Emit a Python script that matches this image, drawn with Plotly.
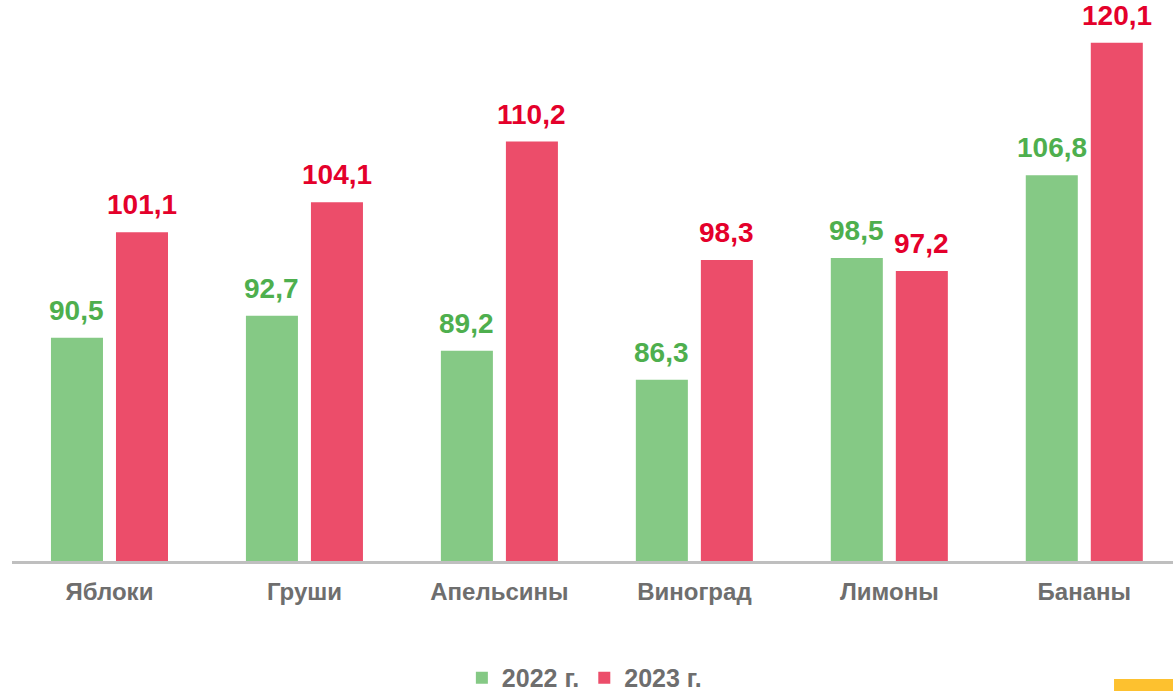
import plotly.graph_objects as go

categories = ["Яблоки", "Груши", "Апельсины", "Виноград", "Лимоны", "Бананы"]
values_2022 = [90.5, 92.7, 89.2, 86.3, 98.5, 106.8]
values_2023 = [101.1, 104.1, 110.2, 98.3, 97.2, 120.1]
series_names = ["2022 г.", "2023 г."]

bar_colors = ["#85C985", "#EC4D6A"]
label_colors = ["#4EAF4E", "#E4002B"]
FONT = "Liberation Sans, Arial, sans-serif"


def fmt(v):
    return f"{v:.1f}".replace(".", ",")


fig = go.Figure()
for name, vals, col in zip(series_names, [values_2022, values_2023], bar_colors):
    fig.add_trace(go.Bar(x=categories, y=vals, name=name, marker=dict(color=col, line=dict(width=0))))

annotations = []
for vals, col, shift in zip([values_2022, values_2023], label_colors, [-32.5, 32.5]):
    for c, v in zip(categories, vals):
        annotations.append(dict(
            x=c, y=v, xref="x", yref="y", text=fmt(v), showarrow=False,
            xshift=shift, yanchor="bottom", yshift=10,
            font=dict(family=FONT, size=28, color=col, weight="bold"),
        ))

fig.update_layout(
    width=1173, height=691,
    margin=dict(l=12, r=0, t=0, b=130, autoexpand=False),
    paper_bgcolor="white", plot_bgcolor="white",
    barmode="group", bargap=0.333, bargroupgap=0.2,
    annotations=annotations,
    showlegend=True,
    legend=dict(
        orientation="h", x=0.493, xanchor="center", y=-0.2085, yanchor="middle",
        font=dict(family=FONT, size=25, color="#6E6E6E", weight="bold"),
        itemclick=False, itemdoubleclick=False,
    ),
    shapes=[dict(type="rect", xref="paper", yref="paper",
                 x0=0.9492, x1=1.01, y0=-0.2103, y1=-0.24,
                 fillcolor="#FDC12F", line=dict(width=0), layer="above")],
)
fig.update_xaxes(
    type="category", range=[-0.5, 5.455], automargin=False,
    showline=True, linecolor="#BFBFBF", linewidth=3,
    showgrid=False, zeroline=False,
    ticks="outside", ticklen=7, tickcolor="rgba(0,0,0,0)",
    tickfont=dict(family=FONT, size=24, color="#6E6E6E", weight="bold"),
)
fig.update_yaxes(range=[68.1, 124.4], visible=False, showgrid=False, zeroline=False)

fig.write_html("out.html", config={"displayModeBar": False},
               post_script="document.body.style.margin='0';")
